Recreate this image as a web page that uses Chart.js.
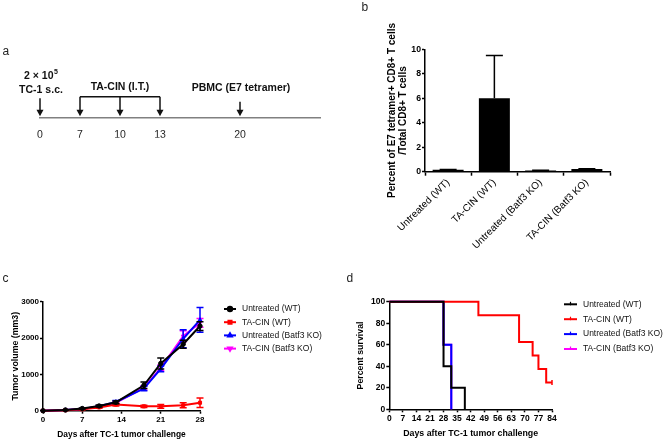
<!DOCTYPE html>
<html><head><meta charset="utf-8">
<script src="https://cdn.jsdelivr.net/npm/chart.js@4.4.1/dist/chart.umd.min.js"></script>
<style>
html,body{margin:0;padding:0;background:#fff;}
#wrap{position:relative;width:669px;height:442px;overflow:hidden;background:#fff;font-family:'Liberation Sans',Arial,sans-serif;}
canvas{position:absolute;left:0;top:0;}
.pl{position:absolute;font-size:12px;line-height:12px;color:#222;}
</style></head><body>
<div id="wrap">
<canvas id="cA" width="669" height="442"></canvas>
<canvas id="cB" width="669" height="442"></canvas>
<canvas id="cC" width="669" height="442"></canvas>
<canvas id="cD" width="669" height="442"></canvas>
<div class="pl" style="left:2.5px;top:45px">a</div>
<div class="pl" style="left:361.5px;top:0.5px">b</div>
<div class="pl" style="left:2.5px;top:271.5px">c</div>
<div class="pl" style="left:346.5px;top:271.5px">d</div>
</div>
<script>
// ---------- DATA ----------
// panel a: timeline (schematic tick labels, days)
const timelineTicks = ['0','7','10','13','','20','',''];
const challengeDay = '0';
const treatmentDays = ['7','10','13'];
const bleedDay = '20';

// panel b: tetramer staining
const groups = ['Untreated (WT)','TA-CIN (WT)','Untreated (Batf3 KO)','TA-CIN (Batf3 KO)'];
const tetramerMean = [0.15, 6.0, 0.1, 0.22];
const tetramerErr  = [0.02, 3.5, 0.02, 0.03];

// panel c: tumor growth
const tumorDays = [0, 4, 7, 10, 13, 18, 21, 25, 28];
const volUntreatedWT = [0, 20, 60, 130, 230, 700, 1300, 1830, 2330];
const semUntreatedWT = [0, 8, 15, 30, 40, 90, 150, 110, 120];
const volTacinWT     = [0, 15, 40, 90, 170, 120, 120, 150, 220];
const semTacinWT     = [0, 8, 12, 25, 40, 30, 50, 70, 130];
const volUntreatedKO = [0, 20, 50, 120, 240, 610, 1150, 1980, 2500];
const semUntreatedKO = [0, 8, 12, 25, 40, 60, 80, 250, 340];
const volTacinKO     = [0, 20, 50, 110, 220, 630, 1180, 2050, 2420];
const semTacinKO     = [0, 8, 12, 25, 40, 60, 80, 150, 120];

// panel d: survival (event days / percent surviving)
const survDaysUntreatedWT = [0, 28, 32, 39];
const survPctUntreatedWT  = [100, 40, 20, 0];
const survDaysTacinWT     = [0, 46, 67, 74, 77, 81, 84];
const survPctTacinWT      = [100, 87.5, 62.5, 50, 37.5, 25, 25];
const survDaysUntreatedKO = [0, 28, 32];
const survPctUntreatedKO  = [100, 60, 0];
const survDaysTacinKO     = [0, 28, 32];
const survPctTacinKO      = [100, 60, 0];

// ---------- COMMON ----------
const FONT = "'Liberation Sans', Arial, sans-serif";
Chart.defaults.font.family = FONT;
Chart.defaults.color = '#000';
const base = {responsive:false, animation:false, devicePixelRatio:1, events:[]};
const noPlug = {legend:{display:false}, tooltip:{enabled:false}};
const plain = v => String(v);

function axisLine(w){ return {display:true, color:'#000', width:w}; }
function tickGrid(len){ return {display:true, drawOnChartArea:false, drawTicks:true, tickLength:len, tickColor:'#000', tickWidth:1.5}; }

// ---------- PANEL A ----------
const timelinePlugin = {
  id:'timeline',
  afterDraw(chart){
    const ctx = chart.ctx, xs = chart.scales.x, y0 = chart.chartArea.bottom;
    const px = d => xs.getPixelForValue(timelineTicks.indexOf(d));
    function arrow(x, yTop){
      ctx.beginPath(); ctx.moveTo(x, yTop); ctx.lineTo(x, y0 - 6); ctx.stroke();
      ctx.beginPath(); ctx.moveTo(x - 3.5, y0 - 8); ctx.lineTo(x + 3.5, y0 - 8); ctx.lineTo(x, y0 - 1.5); ctx.closePath(); ctx.fill();
    }
    ctx.save();
    ctx.strokeStyle = '#111'; ctx.fillStyle = '#111'; ctx.lineWidth = 1.5;
    const x0 = px(challengeDay);
    arrow(x0, y0 - 19.4);
    ctx.textBaseline = 'middle';
    ctx.font = 'bold 10.5px ' + FONT;
    const main = '2 \u00d7 10';
    const wMain = ctx.measureText(main).width;
    ctx.font = 'bold 7px ' + FONT;
    const wSup = ctx.measureText('5').width;
    const sx = x0 + 1 - (wMain + wSup + 0.5) / 2;
    ctx.font = 'bold 10.5px ' + FONT; ctx.textAlign = 'left';
    ctx.fillText(main, sx, y0 - 41.4);
    ctx.font = 'bold 7px ' + FONT;
    ctx.fillText('5', sx + wMain + 0.5, y0 - 45.9);
    ctx.font = 'bold 10.5px ' + FONT; ctx.textAlign = 'center';
    ctx.fillText('TC-1 s.c.', x0 + 1, y0 - 27.4);
    const tx = treatmentDays.map(px);
    const yb = y0 - 21;
    ctx.beginPath(); ctx.moveTo(tx[0], yb); ctx.lineTo(tx[tx.length-1], yb); ctx.stroke();
    tx.forEach(x => arrow(x, yb));
    ctx.fillText('TA-CIN (I.T.)', tx[1], y0 - 30.2);
    const xb = px(bleedDay);
    arrow(xb, y0 - 16);
    ctx.fillText('PBMC (E7 tetramer)', xb + 1, y0 - 29.7);
    ctx.restore();
  }
};
new Chart(document.getElementById('cA'), {
  type:'line',
  data:{labels: timelineTicks, datasets: []},
  options: Object.assign({}, base, {
    layout:{padding:{left:40, right:349, top:60, bottom:442 - 117.7 - 20}},
    plugins: noPlug,
    scales:{
      x:{type:'category', offset:false, grid:{display:false}, border:{display:true, color:'#808080', width:1.5},
         ticks:{color:'#222', font:{size:10.5}, padding:3, autoSkip:false, maxRotation:0},
         afterFit(s){ s.height = 20; }},
      y:{display:false, min:0, max:1}
    }
  }),
  plugins:[timelinePlugin]
});

// ---------- PANEL B ----------
const barErrPlugin = {
  id:'barErr',
  afterDatasetsDraw(chart){
    const ctx = chart.ctx, ys = chart.scales.y, meta = chart.getDatasetMeta(0);
    ctx.save(); ctx.strokeStyle = '#000'; ctx.lineWidth = 1.5;
    meta.data.forEach((bar, i) => {
      const yv = ys.getPixelForValue(tetramerMean[i]);
      const yt = ys.getPixelForValue(tetramerMean[i] + tetramerErr[i]);
      ctx.beginPath(); ctx.moveTo(bar.x, yv); ctx.lineTo(bar.x, yt);
      ctx.moveTo(bar.x - 8.5, yt); ctx.lineTo(bar.x + 8.5, yt); ctx.stroke();
    });
    ctx.restore();
  }
};
new Chart(document.getElementById('cB'), {
  type:'bar',
  data:{labels: groups, datasets:[{data: tetramerMean, backgroundColor:'#000', borderWidth:0, barPercentage:0.67, categoryPercentage:1}]},
  options: Object.assign({}, base, {
    layout:{padding:{left:386.5, right:59, top:49.3, bottom:442 - 171.7 - 80}},
    plugins: noPlug,
    scales:{
      x:{offset:true, grid:tickGrid(4), border:axisLine(1.5),
         ticks:{font:{size:10}, padding:1, minRotation:45, maxRotation:45, autoSkip:false},
         afterFit(s){ s.height = 80; }},
      y:{min:0, max:10, grid:tickGrid(3), border:axisLine(1.5),
         ticks:{stepSize:2, font:{size:8.7, weight:'bold'}, padding:1, callback:plain},
         title:{display:true, text:['Percent of E7 tetramer+ CD8+ T cells','/Total CD8+ T cells'], font:{size:10, weight:'bold', lineHeight:1.1}, padding:0},
         afterFit(s){ s.width = 425 - 386.5; }}
    }
  }),
  plugins:[barErrPlugin]
});

// ---------- LEGEND PLUGIN ----------
const legendPlugin = {
  id:'customLegend',
  afterDraw(chart, args, o){
    const ctx = chart.ctx;
    chart.data.datasets.forEach((ds, i) => {
      const y = o.y + i * o.dy;
      ctx.save();
      ctx.strokeStyle = ds.borderColor; ctx.fillStyle = ds.borderColor; ctx.lineWidth = 2;
      ctx.beginPath(); ctx.moveTo(o.x, y); ctx.lineTo(o.x + o.len, y); ctx.stroke();
      const mx = o.x + o.len / 2;
      if (o.marker === 'point') {
        Chart.helpers.drawPoint(ctx, {pointStyle: ds.pointStyle, rotation: ds.pointRotation || 0, radius: 2.2, borderWidth: 1}, mx, y);
      } else {
        ctx.lineWidth = 1.2; ctx.beginPath(); ctx.moveTo(mx, y - 2.5); ctx.lineTo(mx, y + 1); ctx.stroke();
      }
      ctx.fillStyle = '#111'; ctx.font = o.size + 'px ' + FONT; ctx.textBaseline = 'middle'; ctx.textAlign = 'left';
      ctx.fillText(ds.label, o.x + o.textOff, y);
      ctx.restore();
    });
  }
};

// ---------- PANEL C ----------
const seriesColors = ['#000000', '#ff0000', '#0000ff', '#ff00ff'];
const tumorVals = [volUntreatedWT, volTacinWT, volUntreatedKO, volTacinKO];
const tumorSems = [semUntreatedWT, semTacinWT, semUntreatedKO, semTacinKO];
const pointStyles = [['circle',0], ['rect',0], ['triangle',0], ['triangle',180]];
const errPlugin = {
  id:'lineErr',
  afterDatasetDraw(chart, args){
    const i = args.index, ctx = chart.ctx, xs = chart.scales.x, ys = chart.scales.y;
    ctx.save(); ctx.strokeStyle = seriesColors[i]; ctx.lineWidth = 1.5;
    tumorDays.forEach((d, j) => {
      const e = tumorSems[i][j]; if (!e) return;
      const x = xs.getPixelForValue(d);
      const y1 = ys.getPixelForValue(tumorVals[i][j] + e), y2 = ys.getPixelForValue(Math.max(tumorVals[i][j] - e, 0));
      ctx.beginPath(); ctx.moveTo(x, y1); ctx.lineTo(x, y2);
      ctx.moveTo(x - 3.5, y1); ctx.lineTo(x + 3.5, y1);
      ctx.moveTo(x - 3.5, y2); ctx.lineTo(x + 3.5, y2); ctx.stroke();
    });
    ctx.restore();
  }
};
new Chart(document.getElementById('cC'), {
  type:'line',
  data:{datasets: groups.map((g, i) => ({
    label: g, data: tumorDays.map((d, j) => ({x: d, y: tumorVals[i][j]})),
    borderColor: seriesColors[i], backgroundColor: seriesColors[i], borderWidth: 2,
    pointStyle: pointStyles[i][0], pointRotation: pointStyles[i][1], pointRadius: 2.2, pointBorderWidth: 1,
    tension: 0, clip: false
  }))},
  options: Object.assign({}, base, {
    layout:{padding:{left:10.7, right:469, top:301.7, bottom:2.7}},
    plugins: Object.assign({}, noPlug, {customLegend:{x:224, y:309, dy:13.2, len:12, textOff:18, size:8.5, marker:'point'}}),
    scales:{
      x:{type:'linear', min:0, max:28, grid:tickGrid(3), border:axisLine(1.5),
         ticks:{stepSize:7, font:{size:8, weight:'bold'}, padding:1, callback:plain},
         title:{display:true, text:'Days after TC-1 tumor challenge', font:{size:8.4, weight:'bold', lineHeight:1.2}, padding:0},
         afterFit(s){ s.height = 439.3 - 410.7; }},
      y:{type:'linear', min:0, max:3000, grid:tickGrid(3), border:axisLine(1.5),
         ticks:{stepSize:1000, font:{size:8, weight:'bold'}, padding:1, callback:plain},
         title:{display:true, text:'Tumor volume (mm3)', font:{size:8.8, weight:'bold', lineHeight:1.2}, padding:0},
         afterFit(s){ s.width = 43 - 10.7; }}
    }
  }),
  plugins:[errPlugin, legendPlugin]
});

// ---------- PANEL D ----------
const survDays = [survDaysUntreatedWT, survDaysTacinWT, survDaysUntreatedKO, survDaysTacinKO];
const survPct  = [survPctUntreatedWT, survPctTacinWT, survPctUntreatedKO, survPctTacinKO];
new Chart(document.getElementById('cD'), {
  type:'line',
  data:{datasets: groups.map((g, i) => ({
    label: g, data: survDays[i].map((d, j) => ({x: d, y: survPct[i][j]})),
    borderColor: seriesColors[i], backgroundColor: seriesColors[i], borderWidth: 2,
    stepped: 'before', clip: false,
    pointStyle: 'line', pointRotation: 90, pointBorderWidth: 1.5,
    pointRadius: survDays[i].map((d, j) => (j === survDays[i].length - 1 && survPct[i][j] > 0) ? 2.5 : 0)
  }))},
  options: Object.assign({}, base, {
    layout:{padding:{left:355.7, right:117, top:301.7, bottom:2.7}},
    plugins: Object.assign({}, noPlug, {customLegend:{x:564, y:304.3, dy:14.9, len:13, textOff:19, size:8.5, marker:'tick'}}),
    scales:{
      x:{type:'linear', min:0, max:84, grid:tickGrid(3), border:axisLine(1.5),
         ticks:{stepSize:7, font:{size:8.5, weight:'bold'}, padding:1, autoSkip:false, maxRotation:0, callback:plain},
         title:{display:true, text:'Days after TC-1 tumor challenge', font:{size:8.8, weight:'bold', lineHeight:1.2}, padding:0},
         afterFit(s){ s.height = 439.3 - 409.3; }},
      y:{type:'linear', min:0, max:100, grid:tickGrid(3), border:axisLine(1.5),
         ticks:{stepSize:20, font:{size:8.5, weight:'bold'}, padding:1, callback:plain},
         title:{display:true, text:'Percent survival', font:{size:8.8, weight:'bold', lineHeight:1.2}, padding:0},
         afterFit(s){ s.width = 389.3 - 355.7; }}
    }
  }),
  plugins:[legendPlugin]
});
</script>
</body></html>
